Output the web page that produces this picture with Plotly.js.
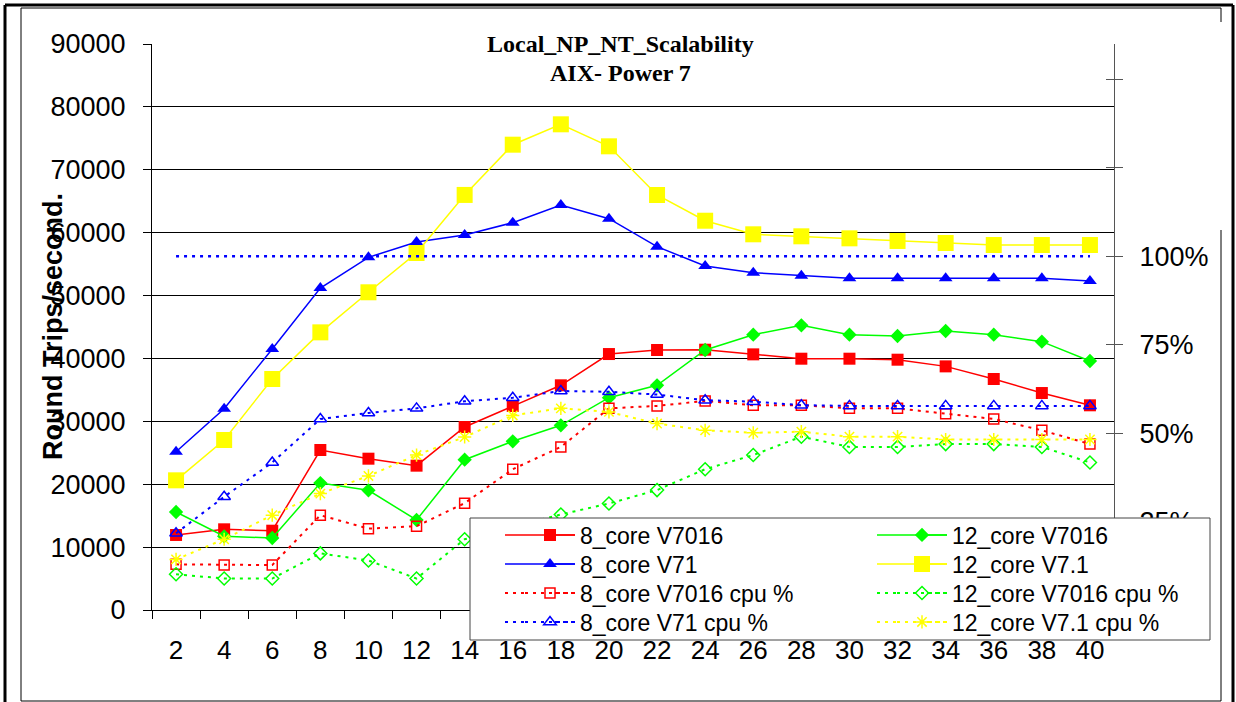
<!DOCTYPE html>
<html>
<head>
<meta charset="utf-8">
<script src="https://cdn.plot.ly/plotly-3.0.1.min.js"></script>
<style>html,body{margin:0;padding:0;background:#fff;}#chart{width:1236px;height:702px;}</style>
</head>
<body>
<div id="chart"></div>
<script>
var categories = ['2','4','6','8','10','12','14','16','18','20','22','24','26','28','30','32','34','36','38','40'];

var core8_V7016 = [11930,12830,12610,25440,24060,22950,29100,32440,35730,40700,41340,41390,40650,39960,39960,39800,38740,36730,34500,32550];
var core12_V7016 = [15580,11720,11450,20190,19030,14310,23900,26820,29370,33760,35730,41340,43780,45260,43780,43570,44360,43780,42670,39590];
var core8_V71 = [25170,32010,41500,51200,56080,58500,59630,61590,64400,62220,57770,54700,53640,53160,52740,52740,52740,52740,52740,52310];
var core12_V71 = [20620,27030,36730,44150,50520,56770,66000,73990,77230,73730,65990,61900,59740,59420,59100,58680,58360,58040,58040,58040];

var core8_V7016_cpu = [0.129,0.127,0.127,0.268,0.230,0.237,0.302,0.398,0.461,0.570,0.577,0.591,0.579,0.579,0.570,0.570,0.555,0.540,0.508,0.469];
var core12_V7016_cpu = [0.101,0.089,0.089,0.160,0.140,0.089,0.200,0.235,0.270,0.301,0.339,0.398,0.438,0.490,0.461,0.461,0.469,0.469,0.461,0.417];
var core8_V71_cpu = [0.217,0.320,0.417,0.540,0.557,0.570,0.590,0.600,0.619,0.617,0.609,0.593,0.589,0.579,0.577,0.577,0.577,0.577,0.577,0.577];
var core12_V71_cpu = [0.143,0.200,0.268,0.329,0.379,0.438,0.489,0.550,0.570,0.560,0.527,0.508,0.501,0.504,0.490,0.490,0.482,0.482,0.482,0.482];
var reference100 = [1,1,1,1,1,1,1,1,1,1,1,1,1,1,1,1,1,1,1,1];

var leftTicks = [0,10000,20000,30000,40000,50000,60000,70000,80000,90000];
var rightTickVals = [0,0.25,0.5,0.75,1,1.25,1.5];
var rightTickText = ['0%','25%','50%','75%','100%','',''];

var titleLines = ['Local_NP_NT_Scalability', 'AIX- Power 7'];
var yTitle = 'Round Trips/second.';

var RED='#FF0000', GREEN='#00FF00', BLUE='#0000FF', YELLOW='#FFFF00';
var DOT='3px,5px';

function solid(name, y, color, symbol, size){
  return {type:'scatter', mode:'lines+markers', name:name, x:categories, y:y, yaxis:'y',
    line:{color:color, width:1.5}, marker:{color:color, symbol:symbol, size:size}};
}
function dotted(name, y, color, symbol, size){
  return {type:'scatter', mode:'lines+markers', name:name, x:categories, y:y, yaxis:'y2',
    line:{color:color, width:2, dash:DOT},
    marker:{color:color, symbol:symbol, size:size, line:{color:color, width:1.5}}};
}

var traces = [
  solid('8_core V7016', core8_V7016, RED, 'square', 12),
  solid('12_core V7016', core12_V7016, GREEN, 'diamond', 11),
  solid('8_core V71', core8_V71, BLUE, 'triangle-up', 12),
  solid('12_core V7.1', core12_V71, YELLOW, 'square', 16),
  dotted('8_core V7016 cpu %', core8_V7016_cpu, RED, 'square-open', 10),
  dotted('12_core V7016 cpu %', core12_V7016_cpu, GREEN, 'diamond-open', 10),
  dotted('8_core V71 cpu %', core8_V71_cpu, BLUE, 'triangle-up-open', 11),
  dotted('12_core V7.1 cpu %', core12_V71_cpu, YELLOW, 'asterisk-open', 11)
];

var W=1236, H=702, L=152, R=1114, T=44, B=610;
function px(x){return (x-L)/(R-L);}
function py(y){return (B-y)/(B-T);}
function seg(x0,y0,x1,y1,w,color,dash){
  var s = {type:'line', xref:'paper', yref:'paper', x0:px(x0), y0:py(y0), x1:px(x1), y1:py(y1),
    line:{color:color||'#000', width:w}, layer:'above'};
  if(dash) s.line.dash = dash;
  return s;
}

var baseFont = {family:'"Liberation Sans", Arial, sans-serif', color:'#000'};

var shapes = [
  seg(5,5,5,702,3), seg(5,5,1233,5,3), seg(1233,5,1233,702,3),
  seg(21,8,21,701,1), seg(21,8,1221,8,1), seg(21,701,1221,701,1),
  seg(1221,8,1221,22,1), seg(1221,230,1221,701,1),
  {type:'rect', xref:'paper', yref:'paper', x0:px(470), x1:px(1210), y0:py(518), y1:py(640),
   fillcolor:'#fff', line:{color:'#444', width:1}, layer:'above'}
];

// legend: one small legend per entry, two columns x four rows
var colStarts = [520, 892];
var rowCenters = [535, 564, 593, 622];
var legends = {};
traces.forEach(function(t, i){
  var key = i === 0 ? 'legend' : 'legend' + (i + 1);
  var cx = colStarts[i % 2], cy = rowCenters[Math.floor(i / 2)];
  t.legend = key;
  legends[key] = {orientation:'v', x:px(cx), y:py(cy),
    xanchor:'left', yanchor:'middle', bgcolor:'rgba(0,0,0,0)', borderwidth:0, itemwidth:50,
    font:{family:baseFont.family, size:23, color:'#000'}};
  // extend the short legend line sample to the longer sample of the reference
  var dash = t.line.dash;
  shapes.push(seg(cx - 15, cy, cx + 5, cy, t.line.width, t.line.color, dash));
  shapes.push(seg(cx + 35, cy, cx + 55, cy, t.line.width, t.line.color, dash));
});

traces.push({type:'scatter', mode:'lines', name:'100%', x:categories, y:reference100, yaxis:'y3', showlegend:false,
    line:{color:BLUE, width:2.5, dash:DOT}, hoverinfo:'skip'});

var titleFont = {family:'"Liberation Serif", "Times New Roman", serif', size:24, color:'#000'};

var layout = {
  width:W, height:H,
  paper_bgcolor:'#fff', plot_bgcolor:'#fff',
  margin:{l:L, r:W-R, t:T, b:H-B, pad:0},
  font:baseFont,
  showlegend:true,
  xaxis:{type:'category', range:[-0.5,19.5], showgrid:false, zeroline:false,
    showline:true, linecolor:'#000', linewidth:1,
    ticks:'outside', ticklen:8, tickcolor:'#000', tickson:'boundaries',
    tickfont:{family:baseFont.family, size:26, color:'#000'}, ticklabelstandoff:17, fixedrange:true},
  yaxis:{range:[0,90000], tickvals:leftTicks, tickformat:'d', showgrid:true, gridcolor:'#000', gridwidth:1,
    zeroline:false, showline:true, linecolor:'#000', linewidth:1,
    ticks:'outside', ticklen:8, tickcolor:'#000',
    tickfont:{family:baseFont.family, size:27, color:'#000'}, ticklabelstandoff:12, fixedrange:true},
  yaxis2:{range:[0,1.6], overlaying:'y', side:'right', tickvals:rightTickVals, ticktext:rightTickText,
    showgrid:false, zeroline:false, showline:true, linecolor:'#555', linewidth:1,
    ticks:'outside', ticklen:8, tickcolor:'#555',
    tickfont:{family:baseFont.family, size:27, color:'#000'}, ticklabelstandoff:11, fixedrange:true},
  yaxis3:{range:[0,1.6], overlaying:'y', side:'right', tickvals:rightTickVals,
    showticklabels:false, showgrid:false, zeroline:false, showline:false,
    ticks:'inside', ticklen:8, tickcolor:'#555', fixedrange:true},
  annotations:[
    {text:'<b>' + titleLines[0] + '</b>', xref:'paper', yref:'paper', x:px(620), y:py(44),
     xanchor:'center', yanchor:'middle', showarrow:false, font:titleFont},
    {text:'<b>' + titleLines[1] + '</b>', xref:'paper', yref:'paper', x:px(620), y:py(73),
     xanchor:'center', yanchor:'middle', showarrow:false, font:titleFont},
    {text:'<b>' + yTitle + '</b>', xref:'paper', yref:'paper', x:px(53), y:py(327),
     xanchor:'center', yanchor:'middle', textangle:-90, showarrow:false,
     font:{family:baseFont.family, size:27, color:'#000'}}
  ],
  shapes:shapes
};
Object.keys(legends).forEach(function(k){ layout[k] = legends[k]; });

Plotly.newPlot('chart', traces, layout, {displayModeBar:false, staticPlot:true});
</script>
</body>
</html>
